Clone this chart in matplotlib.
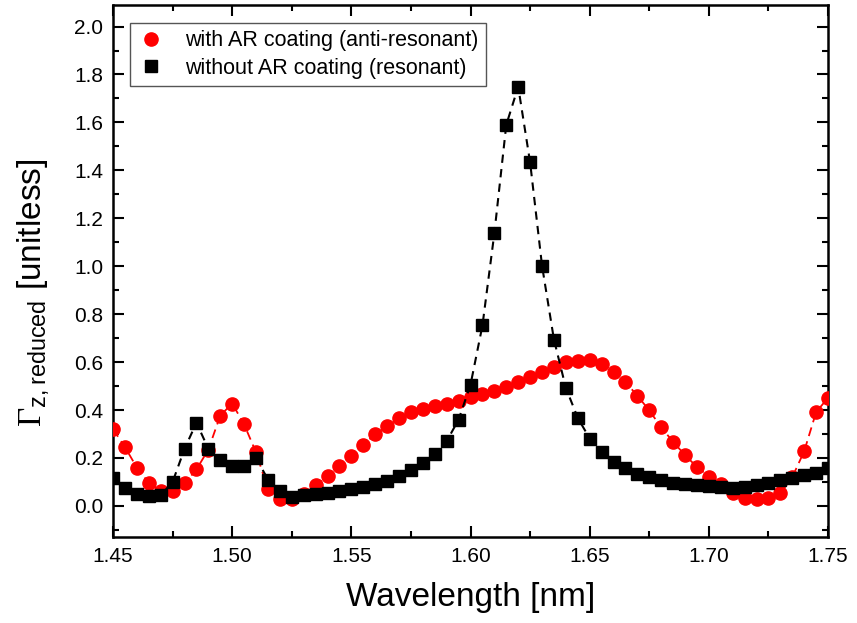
import matplotlib
matplotlib.use("Agg")
import matplotlib.pyplot as plt
from matplotlib.ticker import MultipleLocator

# wavelength grid [nm], one sample every 0.005 nm
wavelength = [
    1.450, 1.455, 1.460, 1.465, 1.470, 1.475, 1.480, 1.485, 1.490, 1.495,
    1.500, 1.505, 1.510, 1.515, 1.520, 1.525, 1.530, 1.535, 1.540, 1.545,
    1.550, 1.555, 1.560, 1.565, 1.570, 1.575, 1.580, 1.585, 1.590, 1.595,
    1.600, 1.605, 1.610, 1.615, 1.620, 1.625, 1.630, 1.635, 1.640, 1.645,
    1.650, 1.655, 1.660, 1.665, 1.670, 1.675, 1.680, 1.685, 1.690, 1.695,
    1.700, 1.705, 1.710, 1.715, 1.720, 1.725, 1.730, 1.735, 1.740, 1.745,
    1.750,
]

with_ar = [
    0.320, 0.245, 0.160, 0.095, 0.062, 0.062, 0.094, 0.152, 0.235, 0.377,
    0.427, 0.340, 0.223, 0.070, 0.028, 0.028, 0.048, 0.087, 0.124, 0.166,
    0.210, 0.256, 0.298, 0.335, 0.365, 0.391, 0.405, 0.416, 0.423, 0.437,
    0.453, 0.465, 0.481, 0.497, 0.517, 0.538, 0.559, 0.580, 0.599, 0.606,
    0.607, 0.592, 0.559, 0.516, 0.460, 0.398, 0.328, 0.267, 0.212, 0.162,
    0.122, 0.090, 0.052, 0.034, 0.027, 0.034, 0.052, 0.120, 0.228, 0.391,
    0.451,
]

without_ar = [
    0.117, 0.073, 0.051, 0.041, 0.044, 0.100, 0.238, 0.347, 0.238, 0.190,
    0.167, 0.166, 0.200, 0.110, 0.062, 0.038, 0.044, 0.048, 0.055, 0.060,
    0.069, 0.078, 0.090, 0.103, 0.124, 0.148, 0.180, 0.217, 0.270, 0.360,
    0.506, 0.753, 1.138, 1.590, 1.749, 1.433, 1.002, 0.694, 0.492, 0.367,
    0.281, 0.224, 0.184, 0.156, 0.135, 0.120, 0.108, 0.097, 0.090, 0.085,
    0.083, 0.080, 0.076, 0.078, 0.085, 0.097, 0.106, 0.117, 0.127, 0.138,
    0.159,
]

plt.rcParams["font.family"] = ["Liberation Sans", "DejaVu Sans"]
plt.rcParams["mathtext.fontset"] = "custom"
plt.rcParams["mathtext.rm"] = "Liberation Serif"
plt.rcParams["mathtext.sf"] = "Liberation Sans"

fig = plt.figure(figsize=(8.57, 6.23), dpi=100)
ax = fig.add_axes([0.1319, 0.138, 0.8343, 0.854])

# dashed connecting lines (no legend entry)
ax.plot(wavelength, with_ar, ls=(0, (5, 3)), color="#ff0000", lw=1.3, zorder=2)
ax.plot(wavelength, with_ar, ls="none", marker="o", ms=9.5, color="#ff0000",
        mec="#ff0000", zorder=3, label="with AR coating (anti-resonant)")
ax.plot(wavelength, without_ar, ls=(0, (4, 3)), color="black", lw=1.5, zorder=4)
ax.plot(wavelength, without_ar, ls="none", marker="s", ms=8, color="black",
        zorder=5, label="without AR coating (resonant)")

ax.set_xlim(1.45, 1.75)
ax.set_ylim(-0.13, 2.09)
ax.xaxis.set_major_locator(MultipleLocator(0.05))
ax.xaxis.set_minor_locator(MultipleLocator(0.025))
ax.yaxis.set_major_locator(MultipleLocator(0.2))
ax.yaxis.set_minor_locator(MultipleLocator(0.1))
ax.xaxis.set_major_formatter(plt.FormatStrFormatter("%.2f"))
ax.yaxis.set_major_formatter(plt.FormatStrFormatter("%.1f"))

ax.tick_params(which="both", direction="in", top=True, right=True, width=1.5)
ax.tick_params(which="major", length=8, labelsize=15, pad=7)
ax.tick_params(which="minor", length=4.5)
for sp in ax.spines.values():
    sp.set_linewidth(1.8)

ax.set_xlabel("Wavelength [nm]", fontsize=24, labelpad=12)
ax.set_ylabel(r"$\Gamma_{\mathsf{z,reduced}}$ [unitless]", fontsize=24)
ax.yaxis.set_label_coords(-0.085, 0.46)

leg = ax.legend(loc="upper left", bbox_to_anchor=(0.024, 0.967), borderaxespad=0,
                fontsize=15.5, numpoints=1, handlelength=1.2, handletextpad=1.0,
                labelspacing=0.3, borderpad=0.35, fancybox=False, framealpha=1)
leg.get_frame().set_edgecolor("#555555")
leg.get_frame().set_linewidth(1.0)

fig.savefig("out.png", dpi=100)
